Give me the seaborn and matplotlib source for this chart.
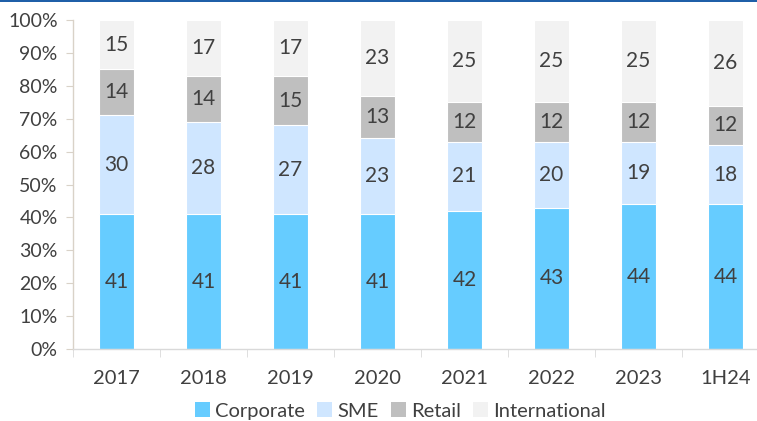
import numpy as np
import pandas as pd
import matplotlib.pyplot as plt
import seaborn as sns
from matplotlib.patches import Patch, Rectangle

# data (share of loan book, %)
years = ['2017', '2018', '2019', '2020', '2021', '2022', '2023', '1H24']
corporate = [41, 41, 41, 41, 42, 43, 44, 44]
sme = [30, 28, 27, 23, 21, 20, 19, 18]
retail = [14, 14, 15, 13, 12, 12, 12, 12]
international = [15, 17, 17, 23, 25, 25, 25, 26]

series = ['Corporate', 'SME', 'Retail', 'International']
colors = ['#66CCFF', '#CFE6FF', '#BFBFBF', '#F2F2F2']

sns.set_style('white')
plt.rcParams['font.family'] = ['Lato', 'DejaVu Sans']
text_col = '#404040'

df = pd.DataFrame({'year': years, 'Corporate': corporate, 'SME': sme,
                   'Retail': retail, 'International': international})
cum = df[series].cumsum(axis=1)

fig = plt.figure(figsize=(7.57, 4.21), dpi=100)
ax = fig.add_axes([73 / 757, 72 / 421, 696 / 757, 329 / 421])

# stacked look: draw cumulative totals from the top series down
for name, col in reversed(list(zip(series, colors))):
    sns.barplot(x=df['year'], y=cum[name] / 100, color=col, width=0.4,
                edgecolor='white', linewidth=0.8, ax=ax, saturation=1)

# value labels in the middle of each segment
for i in range(len(years)):
    base = 0
    for name in series:
        v = df[name][i]
        ax.text(i, (base + v / 2) / 100, str(v), ha='center', va='center',
                fontsize=15, color=text_col)
        base += v

ax.set_xlim(-0.5, 7.5)
ax.set_ylim(0, 1)
ax.set_yticks(np.arange(0, 1.01, 0.1))
ax.set_yticklabels([f'{int(round(t * 100))}%' for t in np.arange(0, 1.01, 0.1)])
ax.set_xlabel('')
ax.set_ylabel('')

sns.despine(ax=ax, top=True, right=True)
ax.spines['left'].set_color('#D9D2C8')
ax.spines['bottom'].set_color('#D9D9D9')
ax.spines['left'].set_linewidth(1)
ax.spines['bottom'].set_linewidth(1)

ax.tick_params(axis='y', length=5, color='#D9D2C8', labelsize=14,
               labelcolor=text_col, pad=6, left=True)
ax.tick_params(axis='x', which='major', length=0, labelsize=14.5,
               labelcolor=text_col, pad=15)
ax.set_xticks(np.arange(-0.5, 8, 1), minor=True)
ax.tick_params(axis='x', which='minor', length=6, color='#D9D9D9', bottom=True)

handles = [Patch(facecolor=c, edgecolor='none', label=s) for s, c in zip(series, colors)]
fig.legend(handles=handles, loc='lower center', ncol=4, frameon=False,
           bbox_to_anchor=(0.529, -0.04), fontsize=14.5, labelcolor=text_col,
           handlelength=0.75, handleheight=0.75, handletextpad=0.25,
           columnspacing=0.6)

# blue rule at the top of the figure
fig.add_artist(Rectangle((0, 1 - 2 / 421), 1, 2 / 421, transform=fig.transFigure,
                         facecolor='#1F5FA8', edgecolor='none'))

fig.savefig('out.png', dpi=100)
